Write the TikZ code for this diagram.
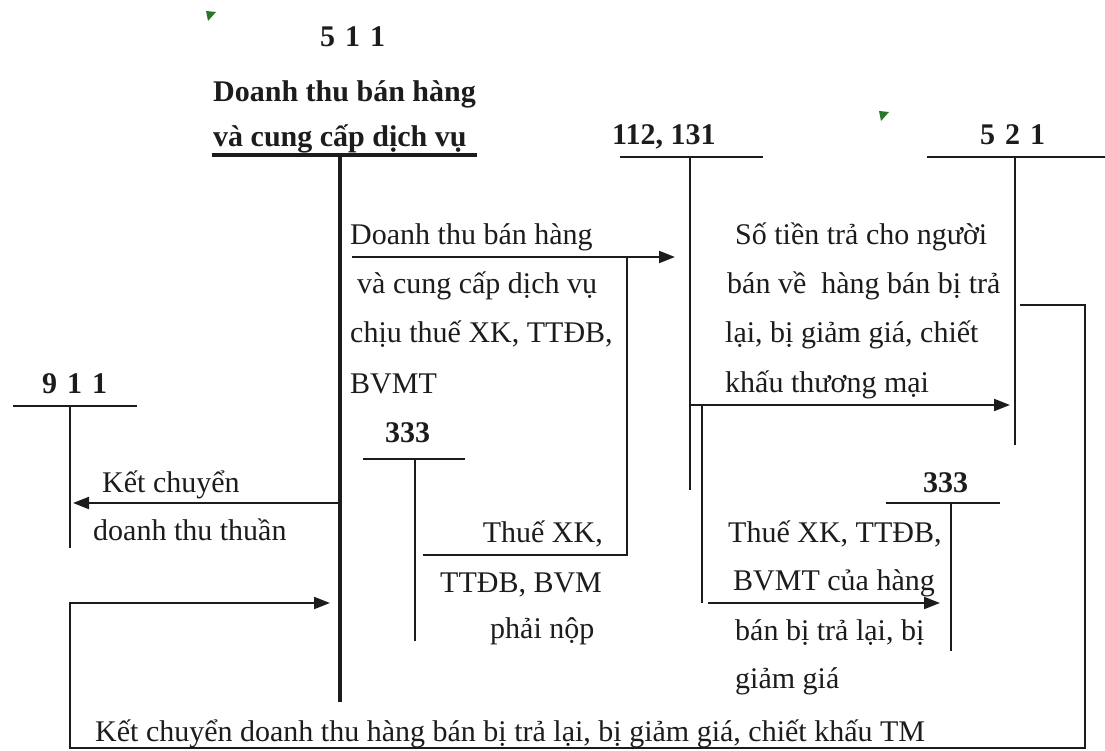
\documentclass[tikz,border=0pt]{standalone}
\usepackage{fontspec}
\setmainfont{Liberation Serif}
\usetikzlibrary{arrows.meta}
\newcommand\lbfont{\fontsize{30}{36}\selectfont}
\newcommand\hdfont{\fontsize{30}{36}\selectfont\bfseries}
\definecolor{ink}{RGB}{28,28,28}
\definecolor{cmtgreen}{RGB}{40,120,40}
\tikzset{
  lbl/.style={anchor=base west, inner sep=0pt, font=\lbfont, text=ink},
  lblr/.style={anchor=base east, inner sep=0pt, font=\lbfont, text=ink},
  hdr/.style={anchor=base west, inner sep=0pt, font=\hdfont, text=ink},
  acct/.style={line width=2pt, draw=ink},
  acctb/.style={line width=3.5pt, draw=ink},
  wire/.style={line width=2pt, draw=ink},
  flow/.style={line width=2pt, draw=ink, -{Triangle[length=16pt,width=12pt]}},
}
\begin{document}
\begin{tikzpicture}[x=1pt,y=-1pt]
\useasboundingbox[fill=white] (0,0) rectangle (1105,751);

% small green comment marks
\fill[cmtgreen] (206,11) -- (216,12) -- (208,21) -- cycle;
\fill[cmtgreen] (879,111) -- (889,112) -- (881,121) -- cycle;

% ---------- account headings ----------
\node[hdr] (h511) at (320,47) {5\,\,1\,\,1};
\node[hdr] (h511a) at (213,102) {Doanh thu bán hàng};
\node[hdr] (h511b) at (213,147) {và cung cấp dịch vụ};
\node[hdr] (h112) at (612,145) {112, 131};
\node[hdr] (h521) at (980,145) {5\,\,2\,\,1};
\node[hdr] (h911) at (42,393) {9\,\,1\,\,1};
\node[hdr] (h333a) at (385,442) {333};
\node[hdr] (h333b) at (923,492) {333};

% ---------- T-account coordinates ----------
\coordinate (t511l) at (212,155); \coordinate (t511r) at (477,155);
\coordinate (t511t) at (340,155); \coordinate (t511b) at (340,702);
\coordinate (t112l) at (620,157); \coordinate (t112r) at (763,157);
\coordinate (t112t) at (690,157); \coordinate (t112b) at (690,490);
\coordinate (t521l) at (927,157); \coordinate (t521r) at (1105,157);
\coordinate (t521t) at (1015,157); \coordinate (t521b) at (1015,445);
\coordinate (t911l) at (13,406); \coordinate (t911r) at (137,406);
\coordinate (t911t) at (70,406); \coordinate (t911b) at (70,548);
\coordinate (t33al) at (363,459); \coordinate (t33ar) at (465,459);
\coordinate (t33at) at (415,459); \coordinate (t33ab) at (415,641);
\coordinate (t33bl) at (886,503); \coordinate (t33br) at (1000,503);
\coordinate (t33bt) at (951,503); \coordinate (t33bb) at (951,651);

\draw[acctb] (t511l) -- (t511r);
\draw[acctb] (t511t) -- (t511b);
\draw[acct] (t112l) -- (t112r);
\draw[acct] (t112t) -- (t112b);
\draw[acct] (t521l) -- (t521r);
\draw[acct] (t521t) -- (t521b);
\draw[acct] (t911l) -- (t911r);
\draw[acct] (t911t) -- (t911b);
\draw[acct] (t33al) -- (t33ar);
\draw[acct] (t33at) -- (t33ab);
\draw[acct] (t33bl) -- (t33br);
\draw[acct] (t33bt) -- (t33bb);

% ---------- flow coordinates ----------
\coordinate (f1s) at (352,257); \coordinate (f1e) at (675,257);
\coordinate (f1k) at (627,257); \coordinate (f1c) at (627,555); \coordinate (f1z) at (423,555);
\coordinate (f2s) at (340,503); \coordinate (f2e) at (73,503);
\coordinate (f3s) at (690,405); \coordinate (f3e) at (1010,405);
\coordinate (f4s) at (702,405); \coordinate (f4c) at (702,603);
\coordinate (f4a) at (708,603); \coordinate (f4e) at (940,603);
\coordinate (f5s) at (1020,305); \coordinate (f5a) at (1085,305);
\coordinate (f5b) at (1085,748); \coordinate (f5c) at (70,748);
\coordinate (f5d) at (70,603); \coordinate (f5e) at (330,603);

\draw[flow] (f1s) -- (f1e);
\draw[wire] (f1k) -- (f1c) -- (f1z);
\draw[flow] (f2s) -- (f2e);
\draw[flow] (f3s) -- (f3e);
\draw[wire] (f4s) -- (f4c);
\draw[flow] (f4a) -- (f4e);
\draw[flow] (f5s) -- (f5a) -- (f5b) -- (f5c) -- (f5d) -- (f5e);

% ---------- labels ----------
\node[lbl] (l1a) at (350,245) {Doanh thu bán hàng};
\node[lbl] (l1b) at (357,293) {và cung cấp dịch vụ};
\node[lbl] (l1c) at (350,342) {chịu thuế XK, TTĐB,};
\node[lbl] (l1d) at (350,393) {BVMT};

\node[lbl] (l2a) at (102,492) {Kết chuyển};
\node[lbl] (l2b) at (93,540) {doanh thu thuần};

\node[lbl] (l3a) at (735,245) {Số tiền trả cho người};
\node[lbl] (l3b) at (727,293) {bán về\ \ hàng bán bị trả};
\node[lbl] (l3c) at (725,342) {lại, bị giảm giá, chiết};
\node[lbl] (l3d) at (725,392) {khấu thương mại};

\node[lblr] (l4a) at (603,542) {Thuế XK,};
\node[lbl] (l4b) at (440,592) {TTĐB, BVM};
\node[lbl] (l4c) at (490,638) {phải nộp};

\node[lbl] (l5a) at (728,542) {Thuế XK, TTĐB,};
\node[lbl] (l5b) at (733,590) {BVMT của hàng};
\node[lbl] (l5c) at (735,640) {bán bị trả lại, bị};
\node[lbl] (l5d) at (735,688) {giảm giá};

\node[lbl] (l6) at (95,741) {Kết chuyển doanh thu hàng bán bị trả lại, bị giảm giá, chiết khấu TM};
\end{tikzpicture}
\end{document}
